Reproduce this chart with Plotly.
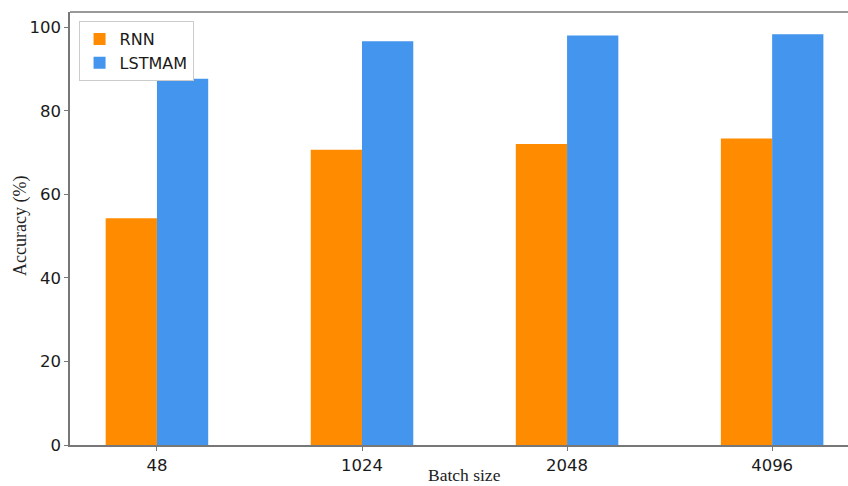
import plotly.graph_objects as go

categories = ["48", "1024", "2048", "4096"]
rnn = [54.3, 70.7, 72.1, 73.4]
lstmam = [87.7, 96.7, 98.1, 98.4]
y_ticks = [0, 20, 40, 60, 80, 100]

fig = go.Figure()
fig.add_trace(go.Bar(x=categories, y=rnn, name="RNN", marker=dict(color="#FF8C00", line=dict(width=0))))
fig.add_trace(go.Bar(x=categories, y=lstmam, name="LSTMAM", marker=dict(color="#4395ED", line=dict(width=0))))

axis_col = "#777777"
fig.update_layout(
    width=848, height=486,
    margin=dict(l=70, r=0, t=12, b=41, autoexpand=False),
    plot_bgcolor="white", paper_bgcolor="white",
    barmode="group", bargap=0.5, bargroupgap=0,
    font=dict(family="DejaVu Sans", size=16.5, color="#1a1a1a"),
    xaxis=dict(
        type="category", range=[-0.424, 3.37], automargin=False,
        showline=True, linecolor=axis_col, linewidth=1.5,
        ticks="outside", ticklen=4, tickcolor=axis_col,
        showgrid=False, zeroline=False,
    ),
    yaxis=dict(
        range=[0, 103.7], tickvals=y_ticks, automargin=False,
        showline=True, linecolor=axis_col, linewidth=1.5,
        ticks="outside", ticklen=4, tickcolor=axis_col,
        showgrid=False, zeroline=False,
    ),
    legend=dict(
        x=0.011, y=0.979, xanchor="left", yanchor="top",
        bgcolor="white", bordercolor="#cccccc", borderwidth=1,
        font=dict(family="DejaVu Sans", size=16),
        tracegroupgap=2,
    ),
    shapes=[dict(type="line", xref="paper", yref="paper", x0=0, x1=1, y0=1, y1=1,
                 line=dict(color=axis_col, width=1.5))],
    annotations=[
        dict(text="Batch size", xref="paper", yref="paper", x=(464 - 70) / 778, y=-(475 - 445) / 433,
             xanchor="center", yanchor="middle", showarrow=False,
             font=dict(family="Liberation Serif", size=17.5, color="#222")),
        dict(text="Accuracy (%)", xref="paper", yref="paper", x=-(70 - 20) / 778, y=(445 - 226) / 433,
             xanchor="center", yanchor="middle", showarrow=False, textangle=-90,
             font=dict(family="Liberation Serif", size=18, color="#222")),
    ],
)

fig.write_html("out.html", config={"displayModeBar": False},
               post_script="document.body.style.margin='0';document.body.style.padding='0';")
